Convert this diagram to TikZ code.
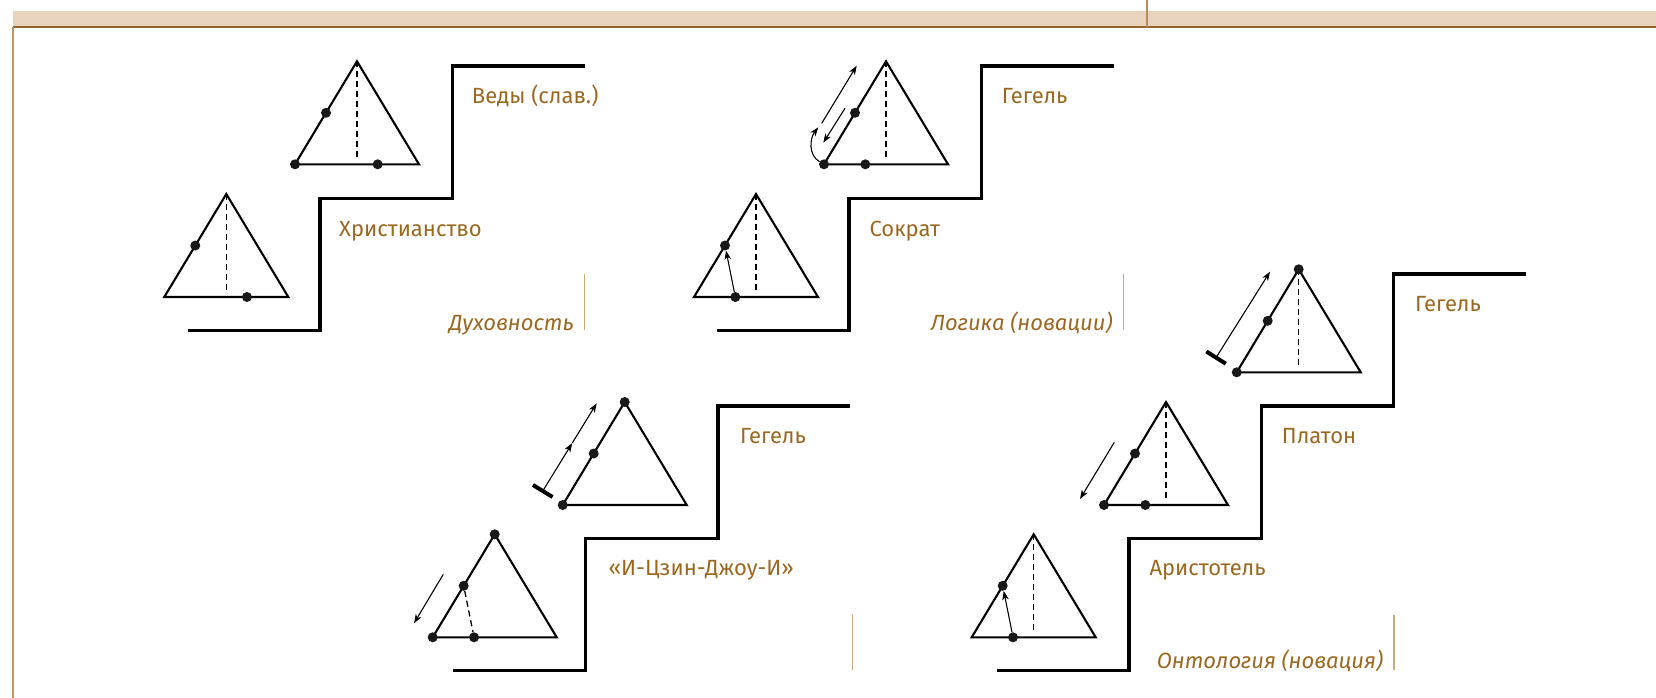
\documentclass[tikz,border=0pt]{standalone}
\usepackage{fontspec}
\setmainfont{Fira Sans}
\usetikzlibrary{arrows.meta}
\definecolor{txtbrown}{RGB}{155,104,32}
\definecolor{barfill}{RGB}{232,212,190}
\definecolor{barline}{RGB}{150,100,45}
\definecolor{ruleline}{RGB}{205,168,120}

\begin{document}
\begin{tikzpicture}[
  x=1pt, y=-1pt,
  lbl/.style={font=\fontsize{22}{26}\selectfont, text=txtbrown, inner sep=0pt, anchor=base west},
  lbli/.style={lbl, font=\fontsize{22}{26}\selectfont\itshape, anchor=base east},
  tri/.style={line width=2.1pt, line join=miter},
  stair/.style={line width=3.4pt, line join=miter},
  dot/.style={circle, fill=black!90, inner sep=0pt, minimum size=10pt},
  dashln/.style={line width=1.3pt, dash pattern=on 6pt off 4pt},
  arr/.style={-{Stealth[length=9pt,width=6.5pt,inset=2.5pt]}, line width=1.1pt},
  bararr/.style={{Bar[width=23pt,line width=4pt]}-{Stealth[length=9pt,width=6.5pt,inset=2.5pt]}, line width=1.1pt},
  rule/.style={ruleline, line width=1.2pt},
]
\useasboundingbox (0,0) rectangle (1656,698);

\def\S{132.3}   % stair step
\def\TW{124}    % triangle base
\def\TH{103}    % triangle height

% triangle: name, base-left x, base-left y
\def\tri#1#2#3{%
  \coordinate (#1-bl) at (#2,#3);
  \coordinate (#1-br) at (#2+\TW,#3);
  \coordinate (#1-ap) at (#2+\TW/2,#3-\TH);
  \coordinate (#1-ft) at (#2+\TW/2,#3-4);
  \coordinate (#1-ml) at (#2+\TW/4,#3-\TH/2);
  \coordinate (#1-b1) at (#2+\TW/3,#3);
  \coordinate (#1-b2) at (#2+2*\TW/3,#3);
  \draw[tri] (#1-bl) -- (#1-br) -- (#1-ap) -- cycle;
}

% ── Frame ──
\fill[barfill] (13,11) rectangle (1656,27);
\draw[barline, line width=1.3pt] (13,27) -- (1656,27);
\draw[ruleline!80!barline, line width=1.3pt] (13,27) -- (13,698);
\draw[ruleline!60!barline, line width=1.3pt] (1147,0) -- (1147,27);

% ── Stairs ──
\draw[stair] (187.7,330.7) -- ++(\S,0) -- ++(0,-\S) -- ++(\S,0) -- ++(0,-\S) -- ++(\S,0);
\draw[stair] (716.7,330.7) -- ++(\S,0) -- ++(0,-\S) -- ++(\S,0) -- ++(0,-\S) -- ++(\S,0);
\draw[stair] (453.3,670.7) -- ++(\S,0) -- ++(0,-\S) -- ++(\S,0) -- ++(0,-\S) -- ++(\S,0);
\draw[stair] (996.7,670.7) -- ++(\S,0) -- ++(0,-\S) -- ++(\S,0) -- ++(0,-\S) -- ++(\S,0)
  -- ++(0,-\S) -- ++(\S,0);

% ── Triangles ──
\tri{A1}{295}{164.3}
\tri{A2}{164.3}{297}
\tri{B1}{824}{164.3}
\tri{B2}{694}{297}
\tri{C1}{1236.7}{372.3}
\tri{D1}{562.7}{505}
\tri{D2}{432.7}{637.3}
\tri{E1}{1104}{505}
\tri{E2}{971.7}{637.3}

% heights
\foreach \t in {A1,A2,B1,B2,C1,E1,E2}
  \draw[dashln] (\t-ap) -- (\t-ft);

% points
\foreach \p in {A1-bl,A1-ml,A1-b2, A2-ml,A2-b2, B1-bl,B1-ml,B1-b1, B2-ml,B2-b1,
                C1-bl,C1-ml,C1-ap, D1-bl,D1-ml,D1-ap, D2-bl,D2-ml,D2-ap,D2-b1,
                E1-bl,E1-ml,E1-b1, E2-ml,E2-b1}
  \node[dot] (d\p) at (\p) {};

\draw[dashln] (dD2-ml) -- (dD2-b1);

% ── Arrows ──
\coordinate (B1-c)  at (818.3,127.3);
\coordinate (B1-u1) at (821.7,123.3);
\coordinate (B1-u2) at (856.7,65.7);
\coordinate (B1-d1) at (845,108.3);
\coordinate (B1-d2) at (823.3,142.7);
\draw[arr] (B1-u1) -- (B1-u2);
\draw[arr] (B1-d1) -- (B1-d2);
\draw[arr] (dB1-bl) .. controls (808,155) and (810,138) .. (B1-c);

\draw[arr] (dB2-b1) -- (dB2-ml);
\draw[arr] (dE2-b1) -- (dE2-ml);

\coordinate (C1-t) at (1215,359.3);
\coordinate (C1-e) at (1270,271.7);
\draw[bararr] (C1-t) -- (C1-e);

\coordinate (D1-t) at (541.7,492.7);
\coordinate (D1-m) at (572.2,443.1);
\coordinate (D1-e) at (596.7,403.3);
\draw[bararr] (D1-t) -- (D1-m);
\draw[arr] (D1-m) -- (D1-e);

\coordinate (D2-s) at (443.3,574.3);
\coordinate (D2-e) at (414,623.3);
\draw[arr] (D2-s) -- (D2-e);

\coordinate (E1-s) at (1114.3,442.3);
\coordinate (E1-e) at (1080,499);
\draw[arr] (E1-s) -- (E1-e);

% ── Labels ──
\node[lbl] (vedy) at (471.7,103.3) {Веды (слав.)};
\node[lbl] (hrist) at (339,236.7) {Христианство};
\node[lbli] (duh) at (574,330) {Духовность};
\node[lbl] (geg1) at (1001.7,103.3) {Гегель};
\node[lbl] (sokr) at (869.3,236.7) {Сократ};
\node[lbli] (logi) at (1112.7,330) {Логика (новации)};
\node[lbl] (geg2) at (1415,311.7) {Гегель};
\node[lbl] (plat) at (1281.7,443.3) {Платон};
\node[lbl] (arist) at (1149.3,575) {Аристотель};
\node[lbli] (onto) at (1383.3,668.3) {Онтология (новация)};
\node[lbl] (geg3) at (740,443.3) {Гегель};
\node[lbl] (izin) at (608.3,575) {«И-Цзин-Джоу-И»};

% ── Side rules ──
\draw[rule] (584.3,274) -- (584.3,330);
\draw[rule] (1123.3,274) -- (1123.3,330);
\draw[rule] (852.3,614) -- (852.3,670);
\draw[rule] (1394,615) -- (1394,670);

\end{tikzpicture}
\end{document}
